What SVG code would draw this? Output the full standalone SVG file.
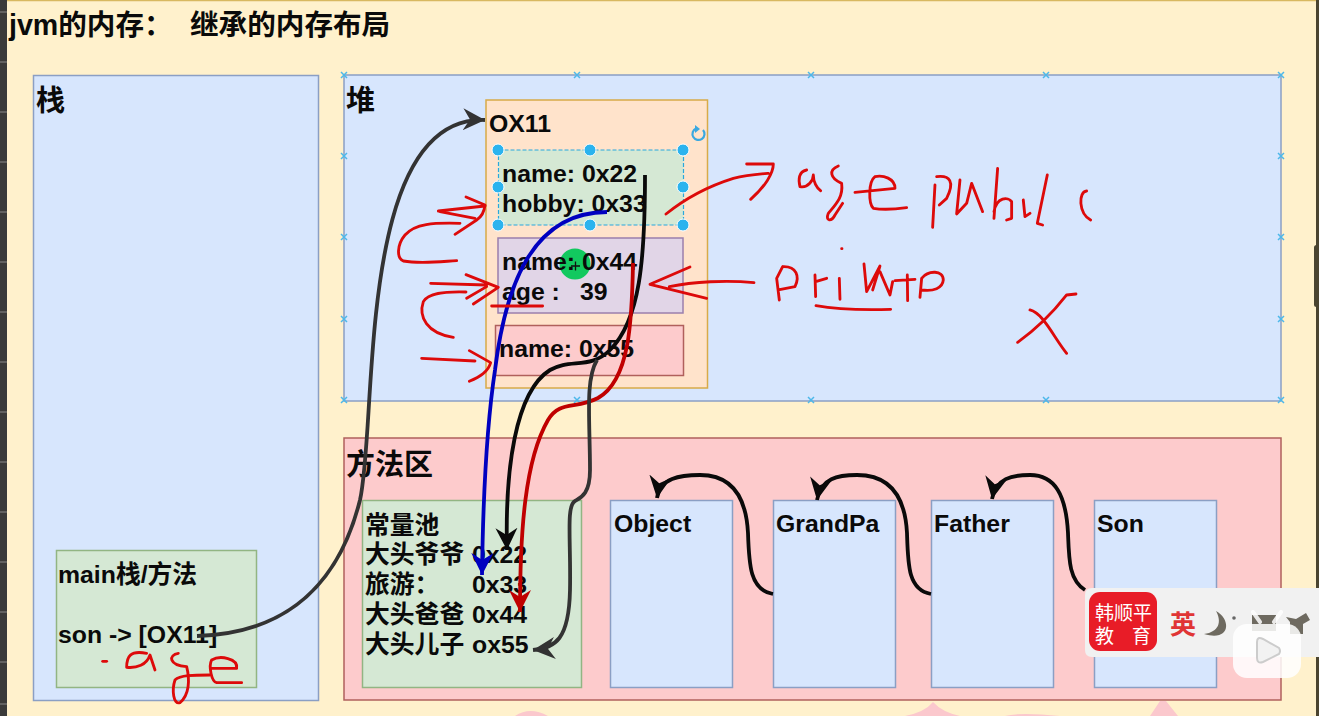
<svg xmlns="http://www.w3.org/2000/svg" width="1319" height="716" viewBox="0 0 1319 716">
<style>
text{font-family:"Liberation Sans","Noto Sans CJK SC",sans-serif;font-weight:bold;fill:#0a0a0a;font-size:24.800px}
.box{stroke-width:1.500}
.blue{fill:#d7e6fd;stroke:#8b9fc4}
.green{fill:#d5e8d4;stroke:#92b583}
.red{fill:#fdcbcc;stroke:#b0605c}
.orange{fill:#ffe3cb;stroke:#d8ab48}
.purple{fill:#e1d5e7;stroke:#9b7fad}
.pen{fill:none;stroke:#dd0a0a;stroke-linecap:round;stroke-linejoin:round}
.conn{fill:none;stroke-linecap:butt;stroke-width:3.800}
.h{fill:#2bb3ee;stroke:#fff;stroke-width:1}
.x{stroke:#4db8ea;stroke-width:1.500;fill:none}
.tick{stroke:#888;stroke-width:1}
</style>
<defs>
<marker id="ak" markerUnits="userSpaceOnUse" markerWidth="28" markerHeight="28" refX="22" refY="12" orient="auto"><path d="M0 1L22 12L0 23L7 12Z" fill="#0a0a0a"/></marker>
<marker id="ag" markerUnits="userSpaceOnUse" markerWidth="28" markerHeight="28" refX="22" refY="12" orient="auto"><path d="M0 1L22 12L0 23L7 12Z" fill="#333"/></marker>
<marker id="ab" markerUnits="userSpaceOnUse" markerWidth="28" markerHeight="28" refX="22" refY="12" orient="auto"><path d="M0 1L22 12L0 23L7 12Z" fill="#0000c0"/></marker>
<marker id="ar" markerUnits="userSpaceOnUse" markerWidth="28" markerHeight="28" refX="22" refY="12" orient="auto"><path d="M0 1L22 12L0 23L7 12Z" fill="#c00000"/></marker>
<path id="cross" d="M-3-3L3 3M-3 3L3-3"/>
</defs>
<rect width="1319" height="716" fill="#fff1cc"/>
<path d="M7 .5H1316" stroke="#d8b860" stroke-width="1.500"/>
<rect x="0" y="0" width="7" height="716" fill="#3a3a3a"/>
<path class="tick" d="M0 12H7M0 62H7M0 112H7M0 162H7M0 212H7M0 262H7M0 312H7M0 362H7M0 412H7M0 462H7M0 512H7M0 562H7M0 612H7M0 662H7M0 704H7"/>
<rect x="1316" y="0" width="3" height="716" fill="#4a4430"/>
<rect x="1314" y="245" width="5" height="62" rx="2.500" fill="#4a4430"/>
<path d="M515 716Q530 706 548 716ZM905 716Q925 712 933 702Q942 712 960 716ZM1005 716Q1020 712 1060 716ZM1150 716L1160 701H1166L1178 716Z" fill="#fbc8cd"/>
<text x="9" y="35" style="font-size:28.600px">jvm的内存：<tspan x="190">继承的内存布局</tspan></text>

<g id="stack"><rect class="box blue" x="33.500" y="75.500" width="285" height="625"/><text x="36" y="111" style="font-size:29px">栈</text></g>
<g id="main-frame"><rect class="box green" x="56.500" y="550.500" width="200" height="137"/><text x="58" y="583">main栈/方法</text><text x="58" y="643">son -&gt; [OX11]</text></g>
<g id="heap"><rect class="box blue" x="344" y="75" width="937" height="326"/><text x="346" y="111" style="font-size:29px">堆</text></g>
<g id="object-ox11"><rect class="box orange" x="486" y="100" width="221.500" height="288"/><text x="489" y="132">OX11</text></g>
<g id="field-grandpa"><rect x="498.500" y="150" width="185" height="75" fill="#d5e8d4"/><rect x="498.500" y="150" width="185" height="75" fill="none" stroke="#29a8dd" stroke-width="1.200" stroke-dasharray="4 2"/><text x="502" y="182">name: 0x22</text><text x="502" y="212">hobby: 0x33</text></g>
<g id="field-father"><rect class="box purple" x="498" y="238" width="185" height="75"/><circle cx="575" cy="264" r="15.500" fill="#12c95f"/><text x="502" y="270">name: 0x44</text><text x="502" y="300">age :<tspan x="580">39</tspan></text><path d="M571 266h9M575.500 261.500v9" stroke="#111" stroke-width="1.300"/></g>
<g id="field-son"><rect class="box red" x="495.500" y="325.500" width="188" height="50"/><text x="499" y="357">name: 0x55</text></g>
<g id="method-area"><rect class="box red" x="344" y="438" width="937" height="262"/><text x="346" y="475" style="font-size:29px">方法区</text></g>
<g id="constant-pool"><rect class="box green" x="362.500" y="500.500" width="219" height="187"/><text x="365" y="534">常量池</text><text x="365" y="563">大头爷爷<tspan x="472">0x22</tspan></text><text x="365" y="593">旅游：<tspan x="472">0x33</tspan></text><text x="365" y="623">大头爸爸<tspan x="472">0x44</tspan></text><text x="365" y="653">大头儿子<tspan x="472">ox55</tspan></text></g>
<g id="class-object"><rect class="box blue" x="610.500" y="500.500" width="122" height="187"/><text x="614" y="532">Object</text></g>
<g id="class-grandpa"><rect class="box blue" x="773.500" y="500.500" width="122" height="187"/><text x="776" y="532">GrandPa</text></g>
<g id="class-father"><rect class="box blue" x="931.500" y="500.500" width="122" height="187"/><text x="934" y="532">Father</text></g>
<g id="class-son"><rect class="box blue" x="1094.500" y="500.500" width="122" height="187"/><text x="1097" y="532">Son</text></g>

<g id="selection">
<g class="x"><use href="#cross" x="344" y="75"/><use href="#cross" x="344" y="156"/><use href="#cross" x="344" y="237"/><use href="#cross" x="344" y="319"/><use href="#cross" x="344" y="400"/><use href="#cross" x="577" y="75"/><use href="#cross" x="577" y="400"/><use href="#cross" x="811" y="75"/><use href="#cross" x="811" y="400"/><use href="#cross" x="1046" y="75"/><use href="#cross" x="1046" y="400"/><use href="#cross" x="1281" y="75"/><use href="#cross" x="1281" y="156"/><use href="#cross" x="1281" y="237"/><use href="#cross" x="1281" y="319"/><use href="#cross" x="1281" y="400"/></g>
<circle class="h" cx="498" cy="150" r="6"/><circle class="h" cx="590" cy="150" r="6"/><circle class="h" cx="683" cy="150" r="6"/><circle class="h" cx="498" cy="187" r="6"/><circle class="h" cx="683" cy="187" r="6"/><circle class="h" cx="498" cy="225" r="6"/><circle class="h" cx="590" cy="225" r="6"/><circle class="h" cx="683" cy="225" r="6"/>
<path d="M703 130A6 6 0 1 1 696 128.500" fill="none" stroke="#3aa8e0" stroke-width="2.200"/><path d="M695 125l5 4-5 4z" fill="#3aa8e0"/>
</g>

<g id="connectors">
<path class="conn" d="M197 636C270 634 335 600 360 500C378 420 355 115 485 120" stroke="#333" marker-end="url(#ag)"/>
<path class="conn" d="M607 212C530 212 505 290 495 370C486 430 483 500 482 575" stroke="#0000c0" marker-end="url(#ab)"/>
<path class="conn" d="M645 175C645 260 640 320 610 350C590 370 570 358 550 370C515 392 505 470 507 550" stroke="#0a0a0a" marker-end="url(#ak)"/>
<path class="conn" d="M633 263C632 320 630 380 598 398C575 410 560 400 548 420C525 460 520 530 520 612" stroke="#c00000" marker-end="url(#ar)"/>
<path class="conn" d="M597 360C585 380 590 420 590 470C590 495 580 498 575 501C566 506 571 540 570 590C569 640 555 648 533 650" stroke="#333" marker-end="url(#ag)"/>
<path class="conn" d="M773 594C750 590 749 565 748 533C746 495 730 475 700 475C680 475 660 478 657 498" stroke="#0a0a0a" marker-end="url(#ak)"/>
<path class="conn" d="M931 594C908 590 908 565 907 533C905 495 889 475 857 475C838 475 821 478 817 500" stroke="#0a0a0a" marker-end="url(#ak)"/>
<path class="conn" d="M1085 590C1069 580 1069 560 1068 533C1066 495 1055 475 1030 475C1012 475 996 478 992 499" stroke="#0a0a0a" marker-end="url(#ak)"/>
</g>

<g id="ink-heap" transform="translate(340 70) scale(.3333)">
<g class="pen" stroke-width="8.500">
<path d="M378 381L435 405C433 425 425 440 410 450L345 493"/><path d="M295 423L435 408M300 425L405 445"/>
<path d="M360 460C280 458 225 460 195 495C170 525 170 565 190 573C240 582 300 575 350 572"/>
<path d="M378 614L475 652L400 702M272 640L440 645M380 685L440 650"/>
<path d="M378 666C310 664 265 670 250 695C235 740 260 790 340 802"/>
<path d="M455 708L608 708"/>
<path d="M245 865L405 873M388 842L452 878C445 905 420 920 388 934"/>
</g>
</g>
<g id="ink-public" transform="translate(650 140) scale(.3333)">
<g class="pen" stroke-width="8.500">
<path d="M48 222C100 180 170 140 250 115C290 105 330 102 355 100M290 72L370 72C370 100 345 140 302 178"/>
<path d="M470 90C445 95 445 120 450 140C475 145 490 120 490 105C490 125 500 145 512 152"/>
<path d="M565 78C535 90 540 115 575 130C580 170 560 190 535 220C525 245 545 245 555 225L578 190"/>
<path d="M615 157L735 145C735 115 700 105 675 110C655 125 655 190 670 205C700 210 740 207 770 203"/>
<path d="M855 135L848 262M860 110C900 105 915 125 890 175L868 195M930 120L920 222L950 190L965 130L998 215"/>
<path d="M1043 85L1032 235M1032 215C1040 170 1075 170 1085 185L1085 235L1070 240M1120 180L1125 230L1140 220"/>
<path d="M1192 105L1162 250L1178 255"/>
<path d="M1310 153C1285 155 1285 220 1322 240"/>
<path d="M312 428C230 420 130 425 58 440M120 381L0 433L170 475"/>
<path d="M398 380L380 415L388 480M398 380C440 378 450 410 435 440L385 450"/>
<path d="M495 405L497 470M497 425L530 415"/>
<path d="M568 415L570 478M575 326h1"/>
<path d="M642 372L650 455L690 378L668 450M690 395L720 465L728 425"/>
<path d="M735 422L795 418M772 405L773 482"/>
<path d="M810 472L815 415C835 390 880 390 880 420C878 445 850 455 815 450"/>
<path d="M498 497C570 510 650 510 722 508"/>
<path d="M1103 607C1170 560 1215 510 1250 465L1278 462M1140 510C1180 520 1210 590 1250 640"/>
</g>
</g>
<g id="ink-age" transform="translate(30 540) scale(.3333)">
<g class="pen" stroke-width="8.500">
<path d="M218 364h12"/>
<path d="M350 340C300 330 290 350 290 382C320 385 350 375 360 345L375 390"/>
<path d="M445 340C415 345 415 375 470 380C480 420 478 465 450 488C430 495 425 450 435 420C450 405 490 405 540 405"/>
<path d="M545 385L620 385C625 355 570 345 545 360C535 380 545 425 560 428L635 428"/>
</g>
</g>

<g id="watermark">
<path d="M1092 588H1319V657H1092Q1085 657 1085 650V595Q1085 588 1092 588Z" fill="#f1f1f1"/>
<rect x="1089" y="592" width="68" height="59" rx="11" fill="#e81c27"/>
<text x="1095" y="620" style="font-size:19px;fill:#fff;font-weight:normal">韩顺平</text>
<text x="1095" y="643" style="font-size:19px;fill:#fff;font-weight:normal">教<tspan x="1132">育</tspan></text>
<text x="1170" y="634" style="font-size:26px;fill:#e03535;font-weight:bold">英</text>
<path d="M1216 611C1232 620 1230 642 1204 634C1219 632 1222 622 1216 611Z" fill="#6e6a60"/>
<circle cx="1234" cy="618" r="1.800" fill="#666"/>
<rect x="1252" y="615" width="24" height="16" fill="#6e6a60"/>
<path d="M1286 617L1296 619L1306 613L1310 620L1303 624L1303 634L1290 634L1290 622Z" fill="#6e6a60"/>
<rect x="1233" y="624" width="68" height="54" rx="14" fill="#fff" fill-opacity=".85"/>
<path d="M1253 612L1260 622M1281 612L1274 622" stroke="#fff" stroke-width="4" stroke-linecap="round" opacity=".85"/>
<path d="M1257 642Q1257 636 1263 639L1279 648Q1281 651 1279 654L1263 662Q1257 664 1257 658Z" fill="#f2f2f2" stroke="#ccc" stroke-width="2"/>
</g>
</svg>
